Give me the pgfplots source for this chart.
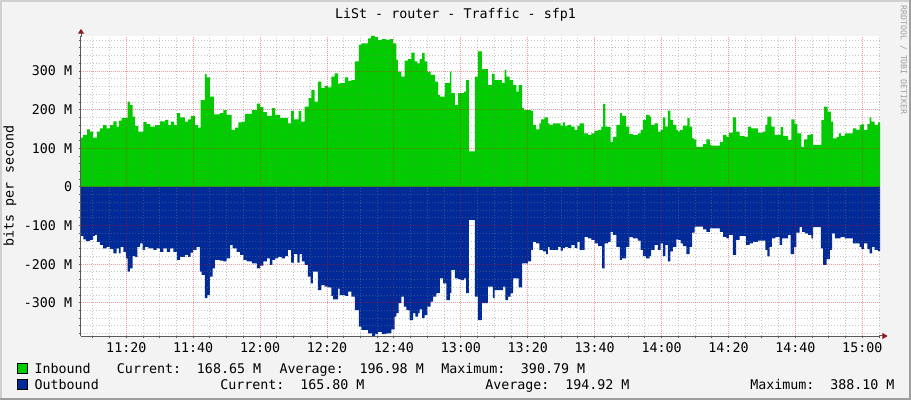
\documentclass[border=0pt]{standalone}
\usepackage{pgfplots}
\pgfplotsset{compat=1.18}
\usepackage{pgfplotstable}
\usepackage{fontspec}
\setmainfont{DejaVu Sans Mono}

\definecolor{bgc}{HTML}{F3F3F3}
\definecolor{shadea}{HTML}{D0D0D0}
\definecolor{shadeb}{HTML}{9E9E9E}
\definecolor{inb}{HTML}{00CC00}
\definecolor{outb}{HTML}{002A97}
\definecolor{axc}{HTML}{5A5A5A}
\definecolor{arrc}{HTML}{8B1A1A}

% minutes after 11:00, Mbit/s
\pgfplotstableread[row sep=\\]{
t v\\
6.25 128\\ 7.1 135\\ 8.3 149\\ 9.15 143\\ 10.1 128\\ 11.3 143\\ 12.1 152\\ 13.1 160\\
14.1 152\\ 15.1 160\\ 16.1 170\\ 17.1 156\\ 17.8 172\\ 18.6 179\\ 20.4 221\\ 21.1 212\\
21.9 182\\ 22.6 158\\ 23.6 143\\ 25.1 168\\ 26.1 163\\ 27.1 156\\ 28.6 160\\ 30.1 170\\
31.6 174\\ 32.6 160\\ 33.3 169\\ 34.3 160\\ 35.1 191\\ 36.1 180\\ 37.5 169\\ 38.5 175\\
39.3 184\\ 40.5 161\\ 41.5 154\\ 42.2 225\\ 43.5 293\\ 44.0 284\\ 45.0 234\\ 46.2 188\\
48.0 191\\ 49.0 199\\ 50.0 187\\ 51.5 148\\ 52.5 154\\ 53.5 167\\ 54.5 169\\ 55.5 189\\
57.5 199\\ 59.0 216\\ 60.0 207\\ 61.0 194\\ 62.0 184\\ 63.5 204\\ 64.5 187\\ 66.0 179\\
68.3 165\\ 69.3 197\\ 70.1 175\\ 71.5 197\\ 72.3 169\\ 73.3 208\\ 74.5 230\\ 75.3 251\\
76.3 221\\ 77.3 273\\ 78.3 256\\ 79.3 262\\ 80.3 258\\ 81.3 286\\ 82.3 294\\ 83.3 267\\
83.8 269\\ 85.3 284\\ 86.3 275\\ 87.3 277\\ 88.3 325\\ 89.5 368\\ 90.3 372\\ 92.3 385\\
93.2 391\\ 94.4 388\\ 95.2 381\\ 96.4 383\\ 97.7 381\\ 98.7 383\\ 99.7 372\\ 100.7 329\\
101.2 299\\ 102.2 286\\ 103.2 327\\ 104.2 331\\ 105.2 348\\ 106.2 325\\ 107.0 320\\ 107.7 331\\
108.4 347\\ 109.2 325\\ 110.0 299\\ 111.0 290\\ 112.2 273\\ 113.2 238\\ 113.7 234\\ 115.2 269\\
116.7 299\\ 117.2 243\\ 118.2 212\\ 119.2 243\\ 121.0 247\\ 121.6 277\\ 122.4 92\\ 124.2 286\\
125.1 351\\ 126.3 305\\ 128.1 264\\ 129.3 293\\ 130.1 277\\ 132.3 269\\ 133.1 303\\ 133.6 286\\
134.6 277\\ 135.6 264\\ 136.6 247\\ 137.3 264\\ 138.3 204\\ 138.9 199\\ 141.0 197\\ 141.5 161\\
142.5 149\\ 143.5 165\\ 144.0 175\\ 145.0 180\\ 146.0 165\\ 146.5 161\\ 147.5 165\\ 149.8 158\\
150.5 167\\ 151.2 158\\ 152.0 161\\ 153.0 156\\ 154.0 148\\ 154.8 158\\ 155.5 165\\ 156.8 139\\
158.0 135\\ 159.0 139\\ 160.0 146\\ 161.0 148\\ 162.0 156\\ 162.5 215\\ 163.2 156\\ 164.0 155\\
164.8 117\\ 165.5 130\\ 166.5 161\\ 167.5 191\\ 168.1 184\\ 169.4 156\\ 170.4 137\\ 171.4 135\\
172.9 139\\ 173.7 148\\ 174.4 174\\ 175.4 187\\ 176.4 182\\ 176.9 161\\ 177.9 165\\ 178.9 143\\
179.7 148\\ 180.4 180\\ 181.1 156\\ 181.9 198\\ 182.6 174\\ 183.4 161\\ 184.4 148\\ 184.9 143\\
185.4 148\\ 186.4 159\\ 187.7 178\\ 188.4 156\\ 189.1 126\\ 189.7 123\\ 190.4 104\\ 192.4 111\\
193.4 123\\ 194.4 109\\ 194.9 107\\ 197.4 117\\ 198.4 135\\ 199.4 130\\ 200.1 141\\ 201.3 180\\
202.3 143\\ 203.3 132\\ 204.8 130\\ 205.8 156\\ 206.8 152\\ 208.8 141\\ 210.3 143\\ 211.0 161\\
211.6 182\\ 212.8 156\\ 213.8 135\\ 215.6 155\\ 216.3 132\\ 217.8 122\\ 218.8 175\\ 219.8 163\\
220.6 139\\ 221.8 104\\ 222.6 123\\ 223.6 135\\ 224.6 137\\ 225.3 109\\ 227.8 174\\ 228.6 208\\
229.6 195\\ 230.6 169\\ 231.3 126\\ 232.3 130\\ 233.0 139\\ 233.7 132\\ 234.7 139\\ 237.2 152\\
238.2 148\\ 239.2 161\\ 239.7 162\\ 240.5 148\\ 241.5 163\\ 242.2 180\\ 242.7 169\\ 243.7 161\\
244.7 167\\ 245.3 167\\
}\inbound

\pgfplotstableread[row sep=\\]{
t v\\
6.25 -127\\ 7.2 -136\\ 7.95 -140\\ 9.1 -137\\ 10.1 -127\\ 10.6 -124\\ 11.3 -142\\ 12.1 -150\\
13.1 -159\\ 14.1 -155\\ 15.1 -161\\ 16.1 -172\\ 17.1 -159\\ 17.8 -172\\ 18.3 -155\\ 19.1 -168\\
19.9 -185\\ 20.4 -219\\ 21.1 -211\\ 21.9 -179\\ 22.6 -182\\ 23.3 -155\\ 24.1 -146\\ 24.9 -163\\
25.6 -155\\ 26.6 -159\\ 28.1 -163\\ 29.1 -159\\ 30.1 -168\\ 31.1 -159\\ 32.1 -168\\ 33.1 -159\\
34.1 -168\\ 35.1 -189\\ 36.1 -181\\ 37.5 -176\\ 38.5 -181\\ 39.2 -170\\ 40.0 -163\\ 41.0 -155\\
42.0 -219\\ 42.5 -228\\ 43.5 -288\\ 44.2 -280\\ 45.0 -232\\ 45.8 -211\\ 46.5 -189\\ 48.0 -191\\
49.0 -193\\ 50.0 -185\\ 51.0 -150\\ 51.8 -159\\ 53.0 -168\\ 54.0 -176\\ 55.0 -189\\ 56.0 -193\\
57.5 -198\\ 59.0 -211\\ 60.0 -204\\ 61.0 -193\\ 62.0 -185\\ 62.9 -202\\ 63.7 -189\\ 64.5 -185\\
65.4 -181\\ 66.4 -185\\ 67.4 -179\\ 68.3 -163\\ 69.3 -196\\ 70.1 -174\\ 71.1 -196\\ 71.8 -174\\
72.5 -193\\ 73.3 -202\\ 74.3 -232\\ 75.1 -250\\ 75.8 -219\\ 77.3 -267\\ 78.3 -254\\ 79.3 -258\\
80.3 -260\\ 81.3 -282\\ 81.8 -291\\ 83.3 -263\\ 83.8 -280\\ 85.3 -282\\ 86.3 -271\\ 87.3 -284\\
88.3 -319\\ 89.5 -362\\ 90.3 -370\\ 92.3 -379\\ 93.5 -388\\ 94.4 -381\\ 95.2 -375\\ 96.4 -381\\
97.7 -379\\ 99.2 -369\\ 100.2 -336\\ 100.7 -327\\ 101.4 -301\\ 102.2 -284\\ 103.0 -310\\ 103.7 -319\\
104.7 -345\\ 105.7 -327\\ 106.4 -336\\ 107.2 -327\\ 107.7 -317\\ 108.4 -340\\ 109.2 -332\\ 110.0 -310\\
111.0 -297\\ 111.7 -284\\ 112.7 -275\\ 113.7 -237\\ 114.7 -250\\ 115.7 -293\\ 116.7 -275\\ 117.2 -215\\
118.2 -237\\ 119.2 -239\\ 120.0 -241\\ 121.0 -237\\ 121.6 -275\\ 122.4 -85\\ 124.2 -284\\ 125.1 -345\\
126.3 -301\\ 128.1 -258\\ 129.6 -288\\ 130.1 -267\\ 132.6 -258\\ 133.3 -293\\ 134.1 -284\\ 134.9 -275\\
135.6 -237\\ 137.3 -260\\ 138.3 -198\\ 140.0 -193\\ 141.0 -163\\ 141.5 -142\\ 142.5 -146\\ 143.5 -163\\
144.5 -167\\ 145.5 -174\\ 146.0 -156\\ 146.5 -163\\ 149.0 -155\\ 149.8 -165\\ 150.5 -158\\ 151.2 -155\\
152.0 -158\\ 153.0 -150\\ 154.0 -158\\ 154.8 -142\\ 155.5 -163\\ 157.0 -129\\ 158.0 -133\\ 159.0 -137\\
160.0 -146\\ 161.0 -153\\ 162.2 -211\\ 163.0 -146\\ 164.0 -142\\ 164.8 -116\\ 165.5 -124\\ 166.5 -155\\
167.5 -189\\ 168.1 -185\\ 169.4 -155\\ 170.4 -130\\ 171.4 -133\\ 172.9 -139\\ 173.7 -163\\ 174.4 -179\\
175.4 -185\\ 176.4 -179\\ 176.9 -163\\ 177.9 -150\\ 178.9 -163\\ 179.7 -146\\ 180.4 -179\\ 181.1 -150\\
181.9 -193\\ 182.6 -167\\ 183.4 -155\\ 184.4 -136\\ 184.9 -137\\ 185.7 -146\\ 186.4 -153\\ 187.4 -174\\
188.4 -155\\ 189.1 -118\\ 189.9 -103\\ 192.4 -110\\ 193.4 -116\\ 194.4 -107\\ 197.4 -116\\ 198.4 -129\\
199.4 -133\\ 200.1 -124\\ 201.3 -176\\ 202.3 -137\\ 203.3 -127\\ 205.3 -150\\ 206.3 -146\\ 207.3 -142\\
208.8 -139\\ 211.0 -163\\ 211.6 -180\\ 212.3 -155\\ 213.0 -133\\ 214.0 -130\\ 215.3 -150\\ 216.0 -133\\
217.8 -124\\ 218.6 -174\\ 219.6 -155\\ 220.3 -118\\ 221.3 -104\\ 222.0 -116\\ 222.8 -120\\ 223.8 -124\\
224.8 -133\\ 225.3 -104\\ 227.6 -159\\ 228.3 -202\\ 229.3 -187\\ 230.3 -163\\ 231.0 -120\\ 231.8 -133\\
233.5 -129\\ 234.7 -133\\ 237.2 -146\\ 239.2 -155\\ 239.7 -161\\ 240.5 -146\\ 241.5 -161\\ 242.2 -172\\
242.9 -155\\ 243.7 -163\\ 244.7 -166\\ 245.3 -166\\
}\outbound

\begin{document}
\begin{tikzpicture}[x=0.75pt,y=0.75pt,font=\fontsize{10}{12}\selectfont]
% background and 3d frame
\fill[bgc] (0,0) rectangle (911,400);
\fill[shadea] (0,398) rectangle (911,400);
\fill[shadea] (0,0) rectangle (2,400);
\fill[shadeb] (0,0) rectangle (911,2);
\fill[shadeb] (909,0) rectangle (911,400);

\begin{axis}[
  at={(60.75pt,48pt)}, anchor=south west,
  scale only axis, width=599.25pt, height=225pt,
  xmin=6.46, xmax=245.29, ymin=-386, ymax=391,
  axis lines*=left,
  axis line style={draw=axc, line width=0.75pt, -},
  axis on top,
  axis background/.style={fill=white},
  xtick={20,40,...,240},
  xticklabels={11:20,11:40,12:00,12:20,12:40,13:00,13:20,13:40,14:00,14:20,14:40,15:00},
  minor xtick={10,15,25,30,35,45,50,55,65,70,75,85,90,95,105,110,115,125,130,135,145,150,155,
    165,170,175,185,190,195,205,210,215,225,230,235,245},
  ytick={-300,-200,...,300},
  yticklabels={-300 M,-200 M,-100 M,0,100 M,200 M,300 M},
  minor ytick={-380,-360,-340,-320,-280,-260,-240,-220,-180,-160,-140,-120,-80,-60,-40,-20,
    20,40,60,80,120,140,160,180,220,240,260,280,320,340,360,380},
  grid=both,
  major grid style={draw=red, opacity=0.4, line width=0.75pt, dash pattern=on 0.75pt off 0.75pt},
  minor grid style={draw=gray, opacity=0.45, line width=0.75pt, dash pattern=on 0.75pt off 1.5pt},
  tick align=outside, tick pos=left,
  major tick length=1.5pt, minor tick length=1.5pt,
  tick style={draw=axc, line width=0.75pt},
  ticklabel style={font=\fontsize{10}{12}\selectfont},
  xticklabel style={inner sep=0pt, anchor=north, yshift=-3pt},
  yticklabel style={inner sep=0pt, anchor=east, xshift=-5pt},
]
\addplot[const plot, fill=inb, draw=none] table[x=t, y=v] {\inbound} \closedcycle;
\addplot[const plot, fill=outb, draw=none] table[x=t, y=v] {\outbound} \closedcycle;
\end{axis}

% axis extensions and arrow heads
\draw[axc, line width=0.75pt] (81,363) -- (81,367);
\draw[axc, line width=0.75pt] (879,64) -- (883,64);
\fill[arrc] (77.8,366.3) -- (84.2,366.3) -- (81,371) -- cycle;
\fill[arrc] (882.3,60.8) -- (882.3,67.2) -- (887.6,64) -- cycle;

% title, axis label, watermark
\node[anchor=base, inner sep=0pt] at (455.5,381) {LiSt - router - Traffic - sfp1};
\node[rotate=90, inner sep=0pt] at (10,214) {bits per second};
\node[rotate=-90, inner sep=0pt, text=gray!75, font=\fontsize{6.2}{7}\selectfont] at (903.5,340) {RRDTOOL / TOBI OETIKER};

% legend
\draw[fill=inb, draw=black, line width=0.75pt] (17.5,26.7) rectangle (27.5,36.7);
\draw[fill=outb, draw=black, line width=0.75pt] (17.5,10.7) rectangle (27.5,20.5);
\begin{scope}[every node/.style={anchor=base west, inner sep=0pt}]
\node at (34.3,26.7) {Inbound};
\node at (116.7,26.7) {Current:};
\node at (196.7,26.7) {168.65 M};
\node at (279.3,26.7) {Average:};
\node at (359.3,26.7) {196.98 M};
\node at (441,26.7) {Maximum:};
\node at (520.7,26.7) {390.79 M};
\node at (34.3,10.7) {Outbound};
\node at (220,10.7) {Current:};
\node at (300,10.7) {165.80 M};
\node at (485,10.7) {Average:};
\node at (565,10.7) {194.92 M};
\node at (750,10.7) {Maximum:};
\node at (830,10.7) {388.10 M};
\end{scope}
\end{tikzpicture}
\end{document}
